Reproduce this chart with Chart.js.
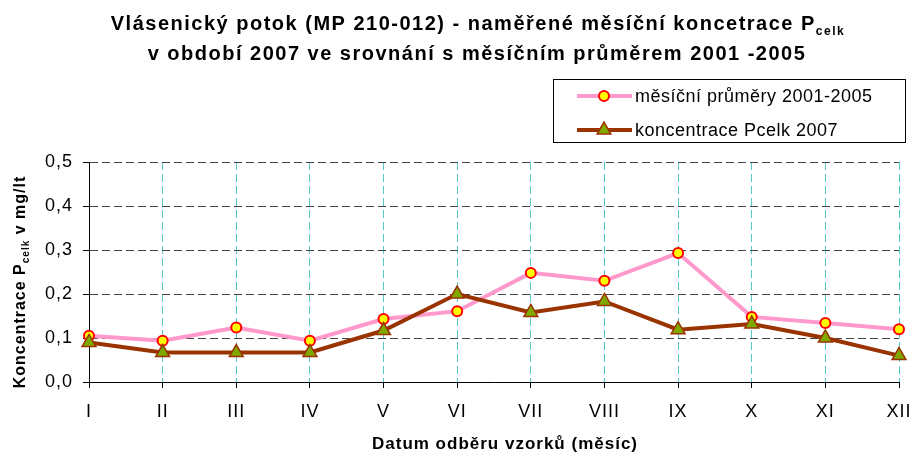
<!DOCTYPE html>
<html>
<head>
<meta charset="utf-8">
<script src="https://cdn.jsdelivr.net/npm/chart.js@4.4.1/dist/chart.umd.min.js"></script>
<style>
  html, body { margin: 0; padding: 0; background: #fff; }
  canvas { display: block; }
</style>
</head>
<body>
<canvas id="chart" width="911" height="452"></canvas>
<script>
// chart data
const months = ['I', 'II', 'III', 'IV', 'V', 'VI', 'VII', 'VIII', 'IX', 'X', 'XI', 'XII'];
const avg20012005 = [0.105, 0.094, 0.124, 0.094, 0.143, 0.161, 0.248, 0.230, 0.293, 0.148, 0.134, 0.120];
const pcelk2007 = [0.090, 0.067, 0.067, 0.067, 0.117, 0.200, 0.158, 0.183, 0.119, 0.132, 0.100, 0.060];
const yMin = 0, yMax = 0.5, yStep = 0.1;

const seriesNames = ['měsíční průměry 2001-2005', 'koncentrace Pcelk 2007'];
const titleLine1 = 'Vlásenický potok (MP 210-012) - naměřené měsíční koncetrace P';
const titleLine2 = 'v období 2007 ve srovnání s měsíčním průměrem 2001 -2005';
const xTitle = 'Datum odběru vzorků (měsíc)';

const FONT = '"Liberation Sans", Arial, sans-serif';
Chart.defaults.font.family = FONT;
Chart.defaults.color = '#000';

// text with subscript part (e.g. P + celk)
function drawSubText(ctx, main, sub, rest, cx, y, size, spacing) {
  ctx.letterSpacing = spacing + 'px';
  ctx.font = 'bold ' + size + 'px ' + FONT;
  const w1 = ctx.measureText(main).width;
  const w3 = rest ? ctx.measureText(rest).width : 0;
  ctx.font = 'bold ' + Math.round(size * 0.6) + 'px ' + FONT;
  const w2 = sub ? ctx.measureText(sub).width : 0;
  let x = cx - (w1 + w2 + w3) / 2;
  ctx.textAlign = 'left';
  ctx.textBaseline = 'alphabetic';
  ctx.font = 'bold ' + size + 'px ' + FONT;
  ctx.fillText(main, x, y);
  x += w1;
  if (sub) {
    ctx.font = 'bold ' + Math.round(size * 0.6) + 'px ' + FONT;
    ctx.fillText(sub, x, y + size * 0.25);
    x += w2;
  }
  if (rest) {
    ctx.font = 'bold ' + size + 'px ' + FONT;
    ctx.fillText(rest, x, y);
  }
}

function drawMarker(ctx, ds, x, y) {
  ctx.fillStyle = ds.pointBackgroundColor;
  ctx.strokeStyle = ds.pointBorderColor;
  ctx.lineWidth = ds.pointBorderWidth;
  ctx.beginPath();
  if (ds.pointStyle === 'triangle') {
    const r = ds.pointRadius;
    for (let k = 0; k < 3; k++) {
      const a = k * 2 * Math.PI / 3;
      const px = x + Math.sin(a) * r, py = y - Math.cos(a) * r;
      if (k === 0) ctx.moveTo(px, py); else ctx.lineTo(px, py);
    }
    ctx.closePath();
  } else {
    ctx.arc(x, y, ds.pointRadius, 0, Math.PI * 2);
  }
  ctx.fill();
  ctx.stroke();
}

const textPlugin = {
  id: 'texts',
  beforeDraw(chart) {
    chart.ctx.letterSpacing = '1px';
  },
  afterDraw(chart) {
    const ctx = chart.ctx;
    ctx.save();
    ctx.fillStyle = '#000';

    // title
    drawSubText(ctx, titleLine1, 'celk', '', 478, 30, 20, 1.5);
    drawSubText(ctx, titleLine2, '', '', 477, 60, 20, 1.5);

    // x axis title
    drawSubText(ctx, xTitle, '', '', 505, 449, 17, 1);

    // y axis title (rotated)
    ctx.save();
    ctx.translate(25, 282);
    ctx.rotate(-Math.PI / 2);
    ctx.fillStyle = '#000';
    drawSubText(ctx, 'Koncentrace P', 'celk', ' v mg/lt', 0, 0, 16, 1);
    ctx.restore();

    // legend
    ctx.strokeStyle = '#000';
    ctx.lineWidth = 1;
    ctx.setLineDash([]);
    ctx.strokeRect(553.5, 79.5, 352, 63);
    chart.data.datasets.forEach((ds, i) => {
      const y = 96 + i * 34;
      ctx.strokeStyle = ds.borderColor;
      ctx.lineWidth = ds.borderWidth;
      ctx.beginPath();
      ctx.moveTo(577, y);
      ctx.lineTo(632, y);
      ctx.stroke();
      drawMarker(ctx, ds, 604, y);
      ctx.fillStyle = '#000';
      ctx.letterSpacing = '0.5px';
      ctx.font = '18px ' + FONT;
      ctx.textAlign = 'left';
      ctx.textBaseline = 'middle';
      ctx.fillText(ds.label, 635, y + 1);
    });
    ctx.restore();
  }
};

const ctx = document.getElementById('chart').getContext('2d');
const chart = new Chart(ctx, {
  type: 'line',
  data: {
    labels: months,
    datasets: [{
      label: seriesNames[0],
      data: avg20012005,
      borderColor: '#ff99cc',
      borderWidth: 4,
      pointStyle: 'circle',
      pointRadius: 5,
      pointHoverRadius: 5,
      pointBackgroundColor: '#ffff00',
      pointBorderColor: '#ff0000',
      pointBorderWidth: 2,
      tension: 0,
      order: 2
    }, {
      label: seriesNames[1],
      data: pcelk2007,
      borderColor: '#993300',
      borderWidth: 4,
      pointStyle: 'triangle',
      pointRadius: 8,
      pointHoverRadius: 8,
      pointBackgroundColor: '#7fa800',
      pointBorderColor: '#993300',
      pointBorderWidth: 1.5,
      tension: 0,
      order: 1
    }]
  },
  options: {
    responsive: false,
    animation: false,
    events: [],
    layout: { padding: { top: 162, right: 12, bottom: 0, left: 0 } },
    plugins: {
      legend: { display: false },
      title: { display: false },
      tooltip: { enabled: false }
    },
    scales: {
      x: {
        offset: false,
        grid: {
          color: c => c.index === 0 ? 'rgba(0,0,0,0)' : '#55c8c8',
          lineWidth: 1,
          tickColor: '#000',
          tickLength: 6
        },
        border: { color: '#000', width: 1, dash: [8, 4] },
        ticks: { font: { size: 18 }, padding: 13, autoSkip: false, maxRotation: 0 },
        afterFit: s => { s.height = 70; s.paddingLeft = 0; s.paddingRight = 0; }
      },
      y: {
        min: yMin,
        max: yMax,
        grid: {
          color: c => c.tick.value === 0 ? 'rgba(0,0,0,0)' : '#444',
          lineWidth: 1,
          tickColor: '#000',
          tickLength: 6
        },
        border: { color: '#000', width: 1, dash: [8, 4] },
        ticks: {
          stepSize: yStep,
          font: { size: 18 },
          padding: 10,
          callback: v => v.toFixed(1).replace('.', ',')
        },
        afterFit: s => { s.width = 89; }
      }
    }
  },
  plugins: [textPlugin]
});
</script>
</body>
</html>
